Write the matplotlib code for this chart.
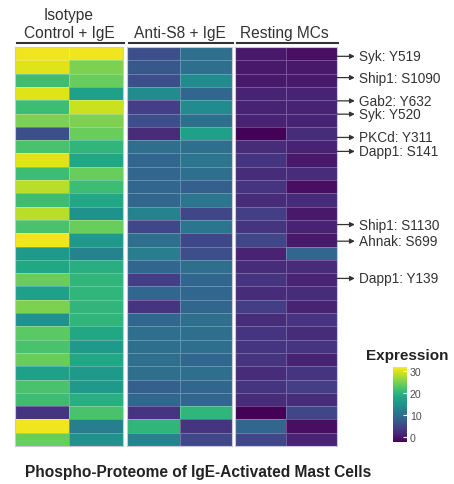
import numpy as np
import matplotlib
matplotlib.use('Agg')
import matplotlib.pyplot as plt
from matplotlib.lines import Line2D

plt.rcParams['font.family'] = ['Liberation Sans', 'DejaVu Sans']

# heatmap values, 30 phosphosites (top to bottom), two replicates per condition
iso_1 = [31, 30, 21, 30, 21, 25, 6, 22, 30, 21, 28, 21, 28, 22, 31,
         16, 18, 24, 17, 25, 15, 23, 22, 24, 17, 22, 21, 3, 31, 24]
iso_2 = [31, 25, 24, 17, 29, 25, 24, 20, 18, 24, 21, 18, 15, 24, 16,
         13, 19, 20, 20, 20, 20, 18, 16, 18, 16, 16, 19, 22, 12, 15]
anti_1 = [6, 7, 6, 14, 4, 6, 2, 10, 9, 9, 9, 9, 13, 5, 10,
          12, 9, 4, 9, 3, 9, 10, 10, 10, 10, 8, 9, 3, 20, 13]
anti_2 = [10, 10, 14, 9, 14, 10, 17, 10, 11, 10, 8, 11, 5, 11, 5,
          6, 10, 9, 9, 9, 10, 10, 10, 9, 10, 9, 9, 20, 3, 5]
rest_1 = [0, 0, 0, 1, 1, 1, -2, 2, 3, 2, 3, 2, 4, 3, 5,
          1, 2, 3, 2, 4, 2, 3, 3, 3, 2, 3, 2, -2, 9, 5]
rest_2 = [-1, 0, 0, 1, 1, 1, 2, 1, 0, 2, -1, 2, 0, 1, 0,
          9, 2, 1, 2, 1, 3, 2, 3, 1, 3, 4, 2, 5, -1, 1]

groups = ['Isotype\nControl + IgE', 'Anti-S8 + IgE', 'Resting MCs']
group_data = [[iso_1, iso_2], [anti_1, anti_2], [rest_1, rest_2]]

# highlighted sites and their (fractional) row positions
site_labels = ['Syk: Y519', 'Ship1: S1090', 'Gab2: Y632', 'Syk: Y520', 'PKCd: Y311',
               'Dapp1: S141', 'Ship1: S1130', 'Ahnak: S699', 'Dapp1: Y139']
site_rows = [0.7, 2.3, 4.05, 5.05, 6.8, 7.85, 13.35, 14.6, 17.4]

W, H = 454, 485
fig = plt.figure(figsize=(W / 100, H / 100), dpi=100)


def box(x0, y0, x1, y1):
    return [x0 / W, 1 - y1 / H, (x1 - x0) / W, (y1 - y0) / H]


vmin, vmax = -2.2, 31.7
spans = [(15, 123), (127, 232), (235, 337)]
axes = []
for (x0, x1), cols in zip(spans, group_data):
    ax = fig.add_axes(box(x0, 48, x1, 447))
    z = np.array(cols).T
    mesh = ax.pcolormesh(z, cmap='viridis', vmin=vmin, vmax=vmax,
                         edgecolors=(1, 1, 1, 0.25), linewidth=0.6)
    ax.set_xlim(0, 2)
    ax.set_ylim(len(iso_1), 0)
    ax.set_xticks([])
    ax.set_yticks([])
    for s in ax.spines.values():
        s.set_color('#c8c8d8')
        s.set_linewidth(0.8)
    axes.append(ax)

# column headers with underline
header_x = [69, 180, 284]
for (x0, x1), cx, g in zip(spans, header_x, groups):
    fig.text(cx / W, 1 - 41 / H, g, ha='center', va='bottom', fontsize=11.2,
             color='#333333', linespacing=1.25)
    fig.add_artist(Line2D([(x0 + 2) / W, (x1 + 1) / W], [1 - 43.5 / H, 1 - 43.5 / H],
                          color='#333333', lw=1.5))

# arrows + site labels
ax3 = axes[2]
for lab, r in zip(site_labels, site_rows):
    ax3.annotate(lab, xy=(2.0, r), xycoords='data', xytext=(22, 0),
                 textcoords='offset pixels', va='center', ha='left',
                 fontsize=9.8, color='#333333', annotation_clip=False,
                 arrowprops=dict(arrowstyle='<|-', color='#333333', lw=0.9,
                                 mutation_scale=7, shrinkA=1, shrinkB=0))

# colorbar
cax = fig.add_axes(box(393, 368, 407, 443))
cb = fig.colorbar(mesh, cax=cax, ticks=[0, 10, 20, 30])
cb.outline.set_visible(False)
cax.tick_params(length=3, width=0.8, color='white', direction='in',
                labelsize=7.6, labelcolor='#4d4d4d', pad=2)
fig.text(407 / W, 1 - 356 / H, 'Expression', ha='center', va='center',
         fontsize=11, fontweight='bold', color='#222222')

fig.text(25 / W, 1 - 473 / H, 'Phospho-Proteome of IgE-Activated Mast Cells',
         ha='left', va='center', fontsize=11.2, fontweight='bold', color='#222222')

fig.savefig('out.png', dpi=100)
